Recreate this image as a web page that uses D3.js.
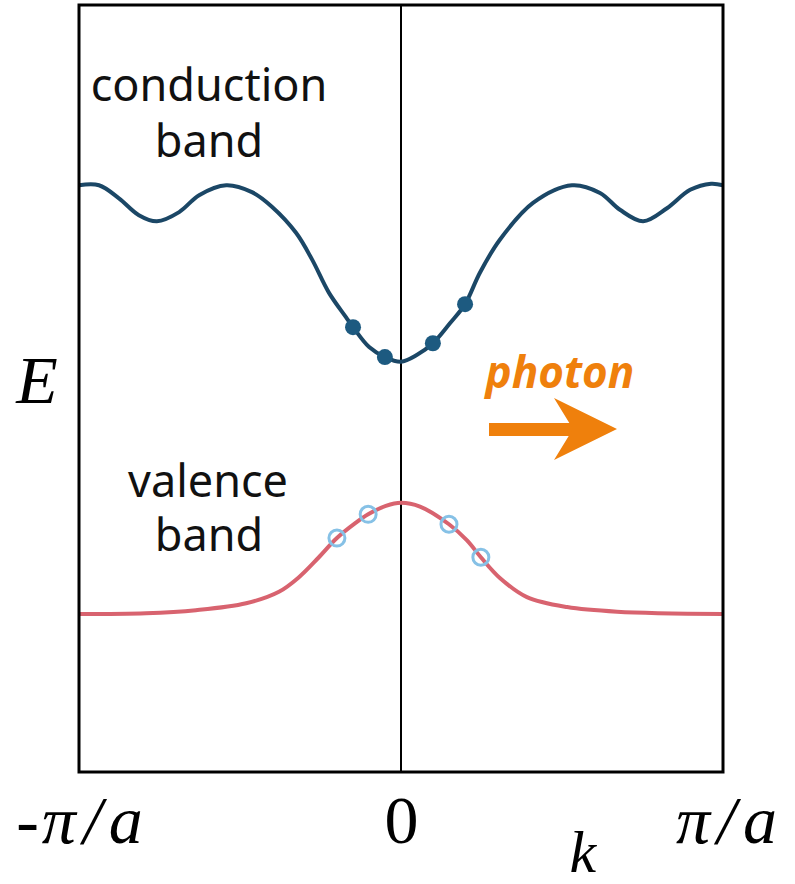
<!DOCTYPE html>
<html>
<head>
<meta charset="utf-8">
<script src="https://cdn.jsdelivr.net/npm/d3@7/dist/d3.min.js"></script>
<style>
  html, body { margin: 0; padding: 0; background: #fff; }
  svg { display: block; }
</style>
</head>
<body>
<svg id="chart" width="795" height="884"></svg>
<script>
// Band structure E(k) across the first Brillouin zone
const conductionK = [-1, -0.938, -0.876, -0.814, -0.758, -0.689, -0.627, -0.543, -0.463, -0.401,
  -0.326, -0.276, -0.224, -0.171, -0.149, -0.099, -0.050, 0, 0.050, 0.099, 0.152, 0.199,
  0.245, 0.307, 0.410, 0.531, 0.618, 0.680, 0.752, 0.826, 0.898, 0.963, 1];
const conductionE = [7.65, 7.65, 7.48, 7.26, 7.18, 7.30, 7.52, 7.65, 7.56, 7.37,
  7.03, 6.68, 6.25, 5.93, 5.80, 5.54, 5.41, 5.35, 5.44, 5.59, 5.85, 6.10,
  6.51, 6.94, 7.42, 7.65, 7.55, 7.33, 7.18, 7.35, 7.59, 7.67, 7.65];

const valenceK = [-1, -0.792, -0.637, -0.481, -0.379, -0.317, -0.255, -0.199, -0.140, -0.102,
  -0.047, 0, 0.059, 0.149, 0.205, 0.248, 0.307, 0.391, 0.516, 0.671, 1];
const valenceE = [2.06, 2.07, 2.11, 2.20, 2.35, 2.54, 2.80, 3.05, 3.25, 3.36,
  3.47, 3.51, 3.46, 3.23, 3.02, 2.80, 2.53, 2.28, 2.15, 2.09, 2.06];

// Electrons in the conduction band (filled) and holes in the valence band (open)
const electronK = [-0.149, -0.050, 0.099, 0.199];
const electronE = [5.80, 5.41, 5.59, 6.10];
const holeK = [-0.199, -0.102, 0.149, 0.248];
const holeE = [3.05, 3.36, 3.23, 2.80];

const kTicks = [-1, 0, 1];
const kTickLabels = ["-π/a", "0", "π/a"];

const svg = d3.select("#chart");
const margin = { left: 79, right: 72, top: 5, bottom: 112 };
const W = 795, H = 884;

const x = d3.scaleLinear().domain([-1, 1]).range([margin.left, W - margin.right]);
const y = d3.scaleLinear().domain([0, 10]).range([H - margin.bottom, margin.top]);

const toPts = (ks, es) => ks.map((k, i) => [k, es[i]]);
const line = d3.line().x(d => x(d[0])).y(d => y(d[1])).curve(d3.curveCatmullRom.alpha(0.5));

// k = 0 reference line
svg.append("line")
  .attr("x1", x(0)).attr("x2", x(0))
  .attr("y1", y(10)).attr("y2", y(0))
  .attr("stroke", "#000").attr("stroke-width", 2);

// Conduction band
svg.append("path")
  .attr("d", line(toPts(conductionK, conductionE)))
  .attr("fill", "none").attr("stroke", "#1b4766").attr("stroke-width", 4);

// Valence band
svg.append("path")
  .attr("d", line(toPts(valenceK, valenceE)))
  .attr("fill", "none").attr("stroke", "#d8636f").attr("stroke-width", 4);

svg.append("g").selectAll("circle")
  .data(toPts(electronK, electronE))
  .join("circle")
  .attr("cx", d => x(d[0])).attr("cy", d => y(d[1])).attr("r", 8)
  .attr("fill", "#1d5a80");

svg.append("g").selectAll("circle")
  .data(toPts(holeK, holeE))
  .join("circle")
  .attr("cx", d => x(d[0])).attr("cy", d => y(d[1])).attr("r", 8)
  .attr("fill", "none").attr("stroke", "#86c1e6").attr("stroke-width", 3);

// Frame
svg.append("rect")
  .attr("x", x(-1)).attr("y", y(10))
  .attr("width", x(1) - x(-1)).attr("height", y(0) - y(10))
  .attr("fill", "none").attr("stroke", "#000").attr("stroke-width", 3);

// Band labels
const labelFont = "'Noto Sans', 'Open Sans', sans-serif";
function label(cx, yy, s) {
  svg.append("text")
    .attr("x", cx).attr("y", yy)
    .attr("text-anchor", "middle")
    .attr("font-family", labelFont).attr("font-size", 45).attr("fill", "#111")
    .text(s);
}
label(209, 101, "conduction");
label(209, 157, "band");
label(208, 497, "valence");
label(209, 551, "band");

// Photon annotation
svg.append("text")
  .attr("x", 560).attr("y", 388).attr("text-anchor", "middle")
  .attr("font-family", labelFont).attr("font-size", 44)
  .attr("font-weight", "bold").attr("font-style", "italic")
  .attr("fill", "#ef800c").text("photon");

svg.append("rect")
  .attr("x", 489).attr("y", 423).attr("width", 86).attr("height", 13)
  .attr("fill", "#ef800c");
svg.append("path")
  .attr("d", "M554,398 L617,429 L554,460 L573,429 Z")
  .attr("fill", "#ef800c");

// k axis
const axis = d3.axisBottom(x).tickValues(kTicks)
  .tickFormat((d, i) => kTickLabels[i]).tickSize(0);
const gx = svg.append("g").attr("transform", `translate(0,${y(0)})`).call(axis);
gx.select(".domain").remove();
const tickDx = [6, 0, 8];
gx.selectAll(".tick text")
  .attr("font-family", "'Liberation Serif', 'DejaVu Serif', serif")
  .attr("font-size", 68).attr("fill", "#000")
  .attr("y", 71).attr("dy", 0)
  .each(function (d, i) {
    const el = d3.select(this);
    const s = kTickLabels[i];
    el.text(null).attr("dx", tickDx[i]);
    for (const ch of s) {
      el.append("tspan")
        .attr("font-style", /[0-9\-]/.test(ch) ? "normal" : "italic")
        .attr("dx", ch === "π" ? 3 : (ch === "/" || ch === "a" ? 7 : 0))
        .text(ch);
    }
  });

// Axis titles
svg.append("text")
  .attr("x", x(0.565)).attr("y", 872).attr("text-anchor", "middle")
  .attr("font-family", "'Liberation Serif', 'DejaVu Serif', serif")
  .attr("font-style", "italic").attr("font-size", 60).text("k");

svg.append("text")
  .attr("x", 37).attr("y", 403).attr("text-anchor", "middle")
  .attr("font-family", "'Liberation Serif', 'DejaVu Serif', serif")
  .attr("font-style", "italic").attr("font-size", 68).text("E");
</script>
</body>
</html>
